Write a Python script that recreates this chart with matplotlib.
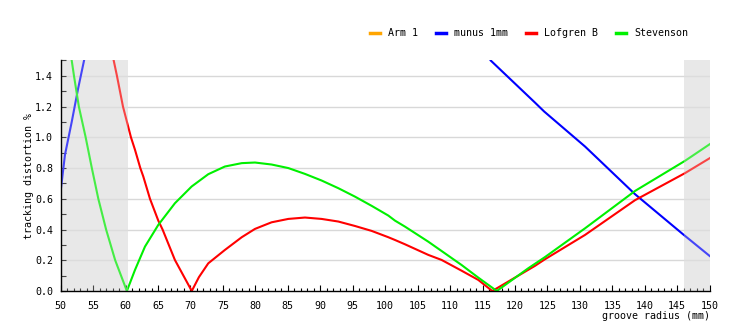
import matplotlib
matplotlib.use("Agg")
import matplotlib.pyplot as plt
from matplotlib.ticker import MultipleLocator

plt.rcParams["font.family"] = "DejaVu Sans Mono"
plt.rcParams["font.size"] = 7.2

# groove radius (mm) / tracking distortion (%) per arm
arm1_x = []
arm1_y = []

munus_x = [50.0, 50.66, 51.7, 52.7, 53.6, None,
           116.26, 123.06, 124.5, 130.8, 138.5, 145.9, 150.0]
munus_y = [0.651, 0.886, 1.10, 1.32, 1.5, None,
           1.5, 1.227, 1.168, 0.94, 0.63, 0.369, 0.228]

lofgren_x = [58.17, 58.67, 59.6, 60.83, 61.45, 62.27, 62.73, 63.76, 65.04, 65.7,
             67.6, 70.2, 71.3, 72.74, 75.3, 77.9, 79.94, 81.48, 82.5, 85.07, 87.64,
             90.2, 92.78, 95.35, 97.92, 100.48, 101.51, 103.05, 106.64, 108.7,
             111.78, 114.35, 116.5, 123.06, 124.6, 130.8, 138.5, 146.2, 150.0]
lofgren_y = [1.5, 1.4, 1.2, 1.0, 0.919, 0.8, 0.745, 0.6, 0.458, 0.4,
             0.202, 0.0, 0.09, 0.18, 0.267, 0.35, 0.404, 0.43, 0.447, 0.469, 0.478,
             0.469, 0.452, 0.423, 0.391, 0.35, 0.332, 0.304, 0.235, 0.202,
             0.132, 0.072, 0.0, 0.163, 0.206, 0.365, 0.591, 0.767, 0.864]

stevenson_x = [51.7, 52.05, 52.8, 53.85, 54.8, 55.8, 57.0, 58.4, 60.2,
               61.45, 62.99, 65.04, 67.6, 70.18, 72.74, 75.3, 77.9, 79.94,
               82.5, 85.07, 87.64, 90.2, 92.78, 95.35, 97.92, 100.48, 101.51,
               103.05, 106.64, 111.78, 114.35, 117.2, 122.05, 124.6, 130.8,
               138.5, 146.2, 150.0]
stevenson_y = [1.5, 1.4, 1.2, 1.0, 0.8, 0.6, 0.4, 0.2, 0.0,
               0.137, 0.289, 0.43, 0.571, 0.68, 0.76, 0.81, 0.832, 0.836,
               0.823, 0.80, 0.762, 0.719, 0.669, 0.614, 0.554, 0.491, 0.458,
               0.419, 0.321, 0.169, 0.087, 0.0, 0.148, 0.22, 0.408,
               0.651, 0.847, 0.955]

# usable groove area limits (mm)
inner_limit = 60.325
outer_limit = 146.05

series = [
    ("Arm 1", arm1_x, arm1_y, "#ffa500"),
    ("munus 1mm", munus_x, munus_y, "#0000ff"),
    ("Lofgren B", lofgren_x, lofgren_y, "#ff0000"),
    ("Stevenson", stevenson_x, stevenson_y, "#00f000"),
]

fig = plt.figure(figsize=(7.4, 3.3), dpi=100)
ax = fig.add_axes([0.082, 0.1182, 0.877, 0.6985])

shade = "#e8e8e8"
for lo, hi in [(50, inner_limit), (outer_limit, 150)]:
    ax.axvspan(lo, hi, color=shade, lw=0, zorder=0)

for yv in [0.2, 0.4, 0.6, 0.8, 1.0, 1.2, 1.4]:
    ax.axhline(yv, color="#d8d8d8", lw=1.0, zorder=0.5)

for name, xs, ys, col in series:
    xv = [float("nan") if v is None else v for v in xs]
    yv = [float("nan") if v is None else v for v in ys]
    ax.plot(xv, yv, color=col, lw=1.5, label=name, zorder=2)

# wash the curves out a little where they leave the groove area
for lo, hi in [(50, inner_limit), (outer_limit, 150)]:
    ax.axvspan(lo, hi, color=shade, alpha=0.3, lw=0, zorder=3)

ax.set_xlim(50, 150)
ax.set_ylim(0, 1.5)
ax.xaxis.set_major_locator(MultipleLocator(5))
ax.xaxis.set_minor_locator(MultipleLocator(1))
ax.yaxis.set_major_locator(MultipleLocator(0.2))
ax.yaxis.set_minor_locator(MultipleLocator(0.1))
ax.yaxis.set_major_formatter(lambda v, p: f"{v:.1f}")

ax.tick_params(axis="both", which="both", direction="in", width=0.8,
               color="black", labelsize=7.2)
ax.tick_params(axis="x", which="major", length=4, pad=7)
ax.tick_params(axis="x", which="minor", length=2.5)
ax.tick_params(axis="y", which="major", length=3.5, pad=5.5)
ax.tick_params(axis="y", which="minor", length=3.5)

for side in ["top", "right"]:
    ax.spines[side].set_visible(False)
for side in ["left", "bottom"]:
    ax.spines[side].set_linewidth(1.0)
    ax.spines[side].set_zorder(4)

ax.set_xlabel("groove radius (mm)", loc="right", labelpad=0)
ax.set_ylabel("tracking distortion %", labelpad=1.0)

handles, labels = ax.get_legend_handles_labels()
leg = fig.legend(handles, labels, loc="center left",
                 bbox_to_anchor=(370 / 740, 1 - 33 / 330), ncol=4,
                 frameon=False, borderpad=0, borderaxespad=0,
                 handlelength=1.0, handletextpad=0.8, columnspacing=1.8)
for h in leg.legend_handles:
    h.set_linewidth(2.5)

fig.savefig("out.png", dpi=100)
